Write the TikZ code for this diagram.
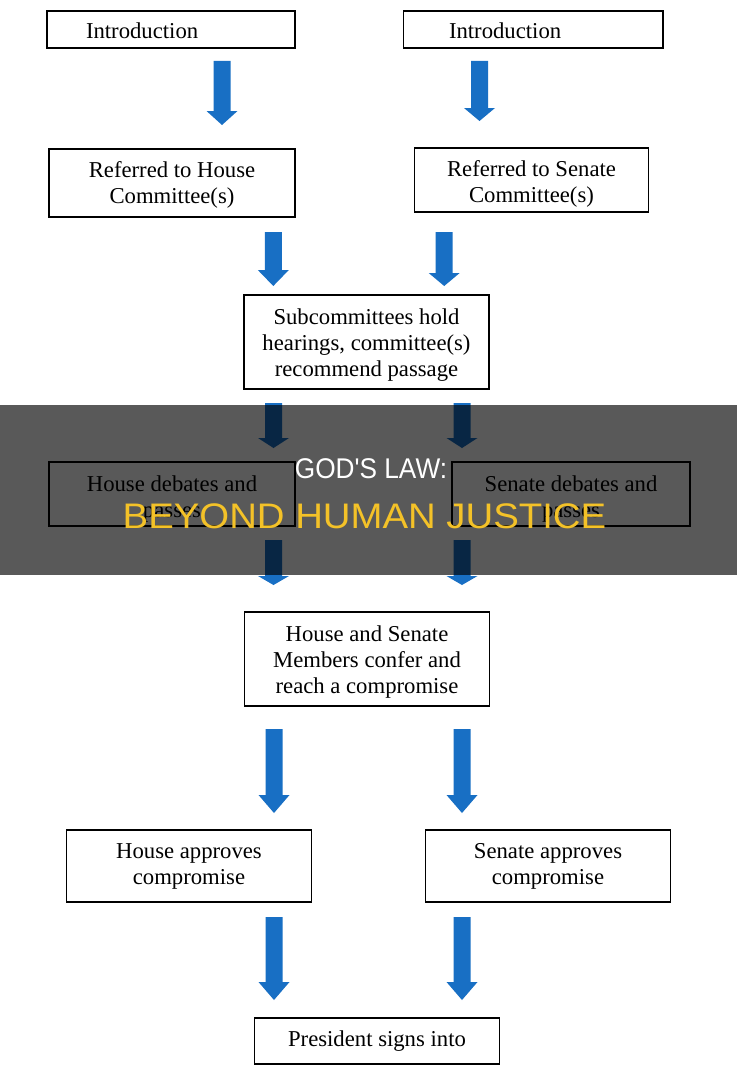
\documentclass[tikz,border=0pt]{standalone}
\usepackage{fontspec}
\usepackage{graphicx}
\setmainfont{Liberation Serif}
\newfontfamily\bannerfont{Liberation Sans}
\usetikzlibrary{calc}
\definecolor{arrowblue}{RGB}{24,111,196}
\definecolor{banneryellow}{RGB}{244,194,40}
\newcommand{\blockarrow}[3][14]{%
  \fill[arrowblue] let \p1=(#2), \p2=(#3) in
    (\x1-8.5pt,\y1) -- (\x1+8.5pt,\y1) -- (\x1+8.5pt,\y2+#1pt) -- (\x1+15.5pt,\y2+#1pt)
    -- (\x1,\y2) -- (\x1-15.5pt,\y2+#1pt) -- (\x1-8.5pt,\y2+#1pt) -- cycle;}
\begin{document}
\begin{tikzpicture}[x=1pt,y=-1pt,
  box/.style={draw=black, line width=1.1pt, inner sep=0pt, align=center,
    font=\fontsize{22.7pt}{26pt}\selectfont}]
\useasboundingbox (0,0) rectangle (737,1081);
\fill[white] (0,0) rectangle (737,1081);

% boxes
\node[box, align=left, text width=248pt, minimum width=248pt, minimum height=37pt] (introH) at (171,29.5)
  {\hspace*{39pt}\rule{0pt}{19pt}Introduction};
\node[box, align=left, text width=259.6pt, minimum width=259.6pt, minimum height=37pt] (introS) at (533.2,29.5)
  {\hspace*{45.6pt}\rule{0pt}{19pt}Introduction};
\node[box, minimum width=246pt, minimum height=68pt] (refH) at (172,183)
  {\rule{0pt}{20pt}Referred to House\\Committee(s)};
\node[box, minimum width=234.6pt, minimum height=64pt] (refS) at (531.5,180)
  {\rule{0pt}{24.5pt}Referred to Senate\\Committee(s)};
\node[box, minimum width=245pt, minimum height=94pt] (sub) at (366.5,342)
  {\rule{0pt}{21pt}Subcommittees hold\\hearings, committee(s)\\recommend passage};
\node[box, minimum width=246pt, minimum height=64pt] (debH) at (172,494)
  {\rule{0pt}{25pt}House debates and\\passes};
\node[box, minimum width=238pt, minimum height=64pt] (debS) at (571,494)
  {\rule{0pt}{25pt}Senate debates and\\passes};
\node[box, minimum width=245pt, minimum height=94pt] (conf) at (367,659)
  {\rule{0pt}{21pt}House and Senate\\Members confer and\\reach a compromise};
\node[box, minimum width=245.4pt, minimum height=72pt] (appH) at (189,866)
  {House approves\\compromise};
\node[box, minimum width=245pt, minimum height=72pt] (appS) at (548,866)
  {Senate approves\\compromise};
\node[box, minimum width=245pt, minimum height=46pt] (pres) at (377,1041)
  {President signs into};

% arrows
\coordinate (a1s) at (222,61);    \coordinate (a1e) at (222,125);
\coordinate (a2s) at (479.5,61);  \coordinate (a2e) at (479.5,121);
\coordinate (a3s) at (273.3,232); \coordinate (a3e) at (273.3,286);
\coordinate (a4s) at (444.2,232); \coordinate (a4e) at (444.2,286);
\coordinate (a5s) at (273.5,403); \coordinate (a5e) at (273.5,448);
\coordinate (a6s) at (462,403);   \coordinate (a6e) at (462,448);
\coordinate (a7s) at (273.5,540); \coordinate (a7e) at (273.5,585);
\coordinate (a8s) at (462,540);   \coordinate (a8e) at (462,585);
\coordinate (a9s) at (274,729);   \coordinate (a9e) at (274,813);
\coordinate (a10s) at (462,729);  \coordinate (a10e) at (462,813);
\coordinate (a11s) at (274,917);  \coordinate (a11e) at (274,1000);
\coordinate (a12s) at (462,917);  \coordinate (a12e) at (462,1000);
\blockarrow[14]{a1s}{a1e}
\blockarrow[13]{a2s}{a2e}
\blockarrow[16]{a3s}{a3e}
\blockarrow[13]{a4s}{a4e}
\blockarrow[10]{a5s}{a5e}
\blockarrow[10]{a6s}{a6e}
\blockarrow[9]{a7s}{a7e}
\blockarrow[9]{a8s}{a8e}
\blockarrow[18]{a9s}{a9e}
\blockarrow[18]{a10s}{a10e}
\blockarrow[18]{a11s}{a11e}
\blockarrow[18]{a12s}{a12e}

% banner
\fill[black, opacity=0.65] (0,405) rectangle (737,575);
\node[anchor=base, inner sep=0pt, text=white,
  font=\bannerfont\fontsize{28.5pt}{30pt}\selectfont] (title1) at (371,478)
  {\scalebox{0.92}[1]{GOD\textquotesingle S LAW:}};
\node[anchor=base, inner sep=0pt, text=banneryellow,
  font=\bannerfont\fontsize{35.5pt}{38pt}\selectfont] (title2) at (364.5,528)
  {\scalebox{1.08}[1]{BEYOND HUMAN JUSTICE}};
\end{tikzpicture}
\end{document}
